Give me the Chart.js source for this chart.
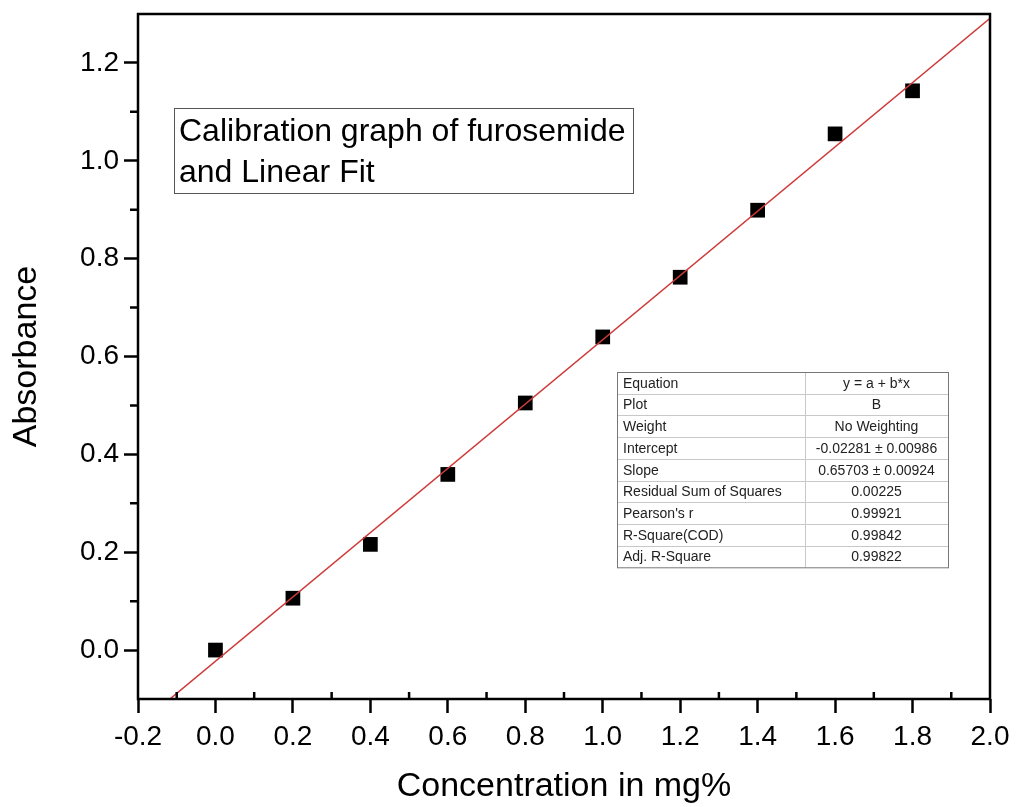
<!DOCTYPE html>
<html>
<head>
<meta charset="utf-8">
<title>Calibration graph of furosemide</title>
<script src="https://cdn.jsdelivr.net/npm/chart.js@4.4.1/dist/chart.umd.min.js"></script>
<style>
  html, body { margin: 0; padding: 0; background: #fff; }
</style>
</head>
<body>
<canvas id="calibChart" width="1016" height="807"></canvas>
<script>
// standards: concentration (mg%) vs measured absorbance
var concentration = [0.0, 0.2, 0.4, 0.6, 0.8, 1.0, 1.2, 1.4, 1.6, 1.8];
var absorbance = [0.000, 0.106, 0.216, 0.359, 0.505, 0.640, 0.762, 0.899, 1.055, 1.143];

var xTicks = [-0.2, 0.0, 0.2, 0.4, 0.6, 0.8, 1.0, 1.2, 1.4, 1.6, 1.8, 2.0];
var yTicks = [0.0, 0.2, 0.4, 0.6, 0.8, 1.0, 1.2];

// linear fit y = a + b*x
var fitIntercept = -0.02281;
var fitSlope = 0.65703;
var fitRange = [-0.2, 2.0];

var fitLabels = ['Equation', 'Plot', 'Weight', 'Intercept', 'Slope',
    'Residual Sum of Squares', "Pearson's r", 'R-Square(COD)', 'Adj. R-Square'];
var fitValues = ['y = a + b*x', 'B', 'No Weighting', '-0.02281 \u00b1 0.00986',
    '0.65703 \u00b1 0.00924', '0.00225', '0.99921', '0.99842', '0.99822'];

var boxLines = ['Calibration graph of furosemide', 'and Linear Fit'];

var FONT = "'Liberation Sans', Arial, sans-serif";
Chart.defaults.font.family = FONT;
Chart.defaults.color = '#000';

var fitPoints = fitRange.map(function(x) {
    return { x: x, y: fitIntercept + fitSlope * x };
});
var points = concentration.map(function(x, i) {
    return { x: x, y: absorbance[i] };
});

// frame, minor ticks, title box and fit table
var decorations = {
    id: 'decorations',
    afterDraw: function(chart) {
        var ctx = chart.ctx;
        var area = chart.chartArea;
        var xs = chart.scales.x, ys = chart.scales.y;
        ctx.save();

        // minor ticks: x inward, y outward
        ctx.strokeStyle = '#000';
        ctx.lineWidth = 2.5;
        ctx.beginPath();
        for (var i = 0; i < xTicks.length - 1; i++) {
            var px = xs.getPixelForValue((xTicks[i] + xTicks[i + 1]) / 2);
            ctx.moveTo(px, area.bottom);
            ctx.lineTo(px, area.bottom - 7);
        }
        for (var j = 0; j < yTicks.length - 1; j++) {
            var py = ys.getPixelForValue((yTicks[j] + yTicks[j + 1]) / 2);
            ctx.moveTo(area.left, py);
            ctx.lineTo(area.left - 8, py);
        }
        ctx.stroke();

        // plot frame
        ctx.lineWidth = 2.5;
        ctx.strokeRect(area.left, area.top, area.right - area.left, area.bottom - area.top);

        // title box
        ctx.lineWidth = 1;
        ctx.strokeStyle = '#555';
        ctx.strokeRect(174.5, 108.5, 459, 85);
        ctx.fillStyle = '#000';
        ctx.font = '32px ' + FONT;
        ctx.textAlign = 'left';
        ctx.textBaseline = 'alphabetic';
        ctx.fillText(boxLines[0], 179, 141);
        ctx.fillText(boxLines[1], 179, 182);

        // fit results table
        var tx = 617, ty = 372, tw = 331, rowH = 21.7, colX = 805;
        var th = rowH * fitLabels.length;
        ctx.strokeStyle = '#c8c8c8';
        ctx.beginPath();
        for (var r = 1; r < fitLabels.length; r++) {
            var ry = Math.round(ty + r * rowH) + 0.5;
            ctx.moveTo(tx, ry);
            ctx.lineTo(tx + tw, ry);
        }
        ctx.moveTo(colX + 0.5, ty);
        ctx.lineTo(colX + 0.5, ty + th);
        ctx.stroke();
        ctx.strokeStyle = '#777';
        ctx.strokeRect(tx + 0.5, ty + 0.5, tw, th);

        ctx.font = '14px ' + FONT;
        ctx.fillStyle = '#222';
        ctx.textBaseline = 'middle';
        for (var k = 0; k < fitLabels.length; k++) {
            var cy = ty + (k + 0.5) * rowH + 1;
            ctx.textAlign = 'left';
            ctx.fillText(fitLabels[k], tx + 6, cy);
            ctx.textAlign = 'center';
            ctx.fillText(fitValues[k], (colX + tx + tw) / 2, cy);
        }
        ctx.restore();
    }
};

var ctx = document.getElementById('calibChart').getContext('2d');
var calibChart = new Chart(ctx, {
    type: 'scatter',
    data: {
        datasets: [{
            data: fitPoints,
            showLine: true,
            borderColor: '#cf3a3a',
            borderWidth: 1.5,
            pointRadius: 0,
            clip: 0
        }, {
            data: points,
            pointStyle: 'rect',
            pointRadius: 10.4,
            pointBackgroundColor: '#000',
            pointBorderWidth: 0
        }]
    },
    options: {
        responsive: false,
        animation: false,
        events: [],
        layout: { padding: { top: 14, right: 26, left: 0, bottom: 0 } },
        plugins: {
            legend: { display: false },
            tooltip: { enabled: false }
        },
        scales: {
            x: {
                type: 'linear',
                min: -0.2,
                max: 2.0,
                afterBuildTicks: function(s) { s.ticks = xTicks.map(function(v) { return { value: v }; }); },
                afterFit: function(s) { s.height = 108; s.paddingLeft = 0; s.paddingRight = 0; },
                border: { display: false },
                grid: { drawOnChartArea: false, drawTicks: true, tickLength: 14, tickWidth: 2.5, tickColor: '#000' },
                ticks: {
                    padding: 7, autoSkip: false, maxRotation: 0,
                    font: { size: 28 },
                    callback: function(v) { return v.toFixed(1); }
                },
                title: { display: true, text: 'Concentration in mg%', font: { size: 34 }, padding: { top: 0, bottom: 0 } }
            },
            y: {
                type: 'linear',
                min: -0.1,
                max: 1.3,
                afterBuildTicks: function(s) { s.ticks = yTicks.map(function(v) { return { value: v }; }); },
                afterFit: function(s) { s.width = 138; s.paddingTop = 0; s.paddingBottom = 0; },
                border: { display: false },
                grid: { drawOnChartArea: false, drawTicks: true, tickLength: 14, tickWidth: 2.5, tickColor: '#000' },
                ticks: {
                    padding: 5,
                    font: { size: 28 },
                    callback: function(v) { return v.toFixed(1); }
                },
                title: { display: true, text: 'Absorbance', font: { size: 34 }, padding: { top: 6, bottom: 0 } }
            }
        }
    },
    plugins: [decorations]
});
</script>
</body>
</html>
